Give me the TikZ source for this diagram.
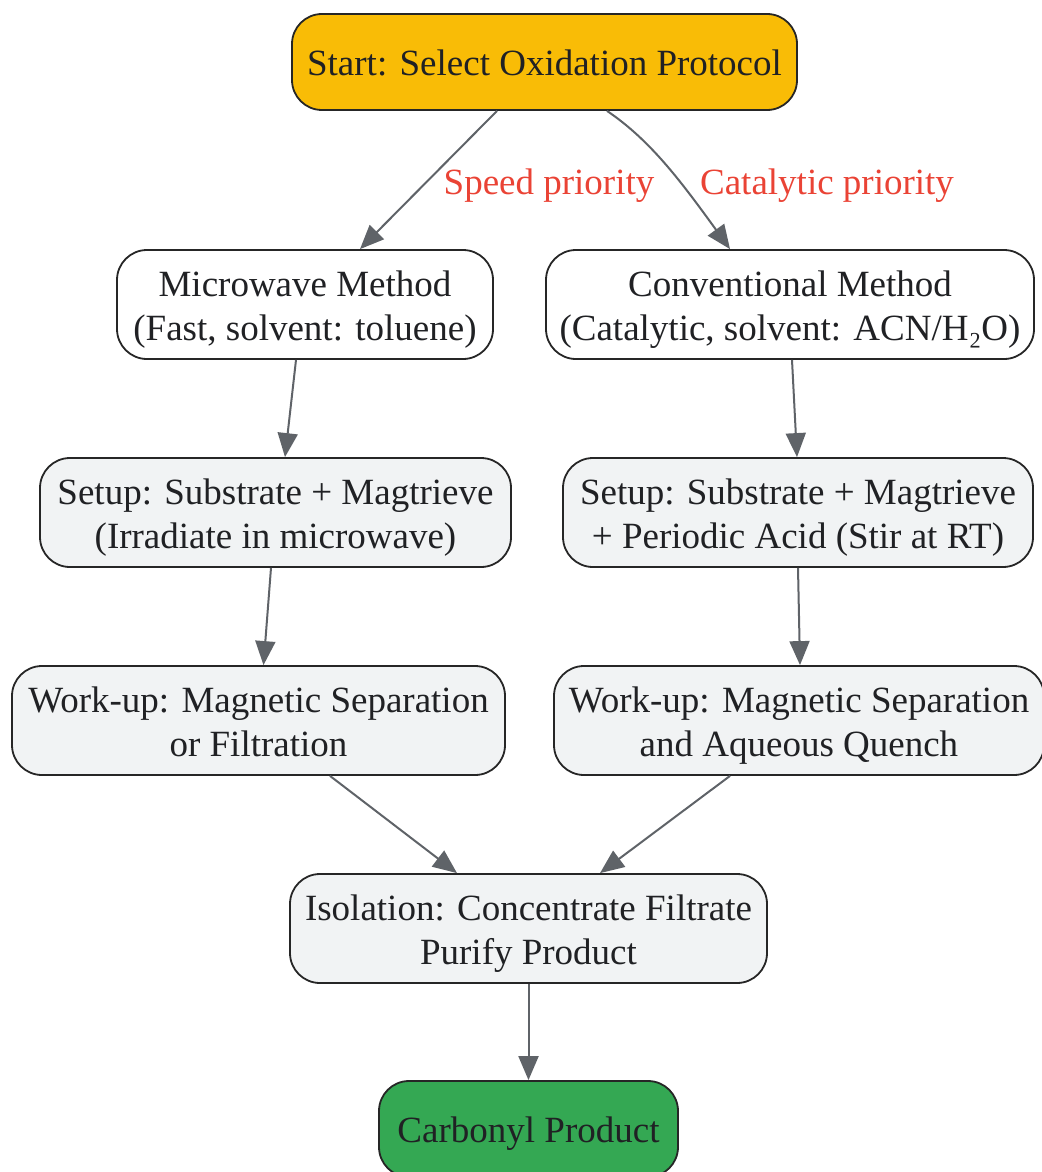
\documentclass[tikz,border=0pt]{standalone}
\usepackage{fontspec}
\setmainfont{Liberation Serif}
\usetikzlibrary{arrows.meta,calc}
\definecolor{startfill}{HTML}{F9BC06}
\definecolor{stepfill}{HTML}{F1F3F4}
\definecolor{endfill}{HTML}{34A853}
\definecolor{edgecol}{HTML}{5F6368}
\definecolor{labcol}{HTML}{EA4335}
\definecolor{txtcol}{HTML}{202124}
\newcommand\firstln{\rule{0pt}{35pt}}
\tikzset{
  box/.style={draw=black!85, line width=1.8pt, rounded corners=30pt, align=center,
    inner sep=0pt, text=txtcol, font=\fontsize{37}{44}\selectfont},
  edge/.style={draw=edgecol, line width=2pt, -{Triangle[length=24pt,width=20pt]}},
  elab/.style={text=labcol, font=\fontsize{37}{44}\selectfont, inner sep=0pt},
}
\begin{document}
\begin{tikzpicture}[x=1pt,y=-1pt]
\useasboundingbox (0,0) rectangle (1041,1172);
\node[box, fill=startfill, minimum width=505pt, minimum height=96pt] (start) at (544.5,62) {\rule{0pt}{27pt}Start: Select Oxidation Protocol};
\node[box, fill=white, minimum width=376pt, minimum height=109pt] (micro) at (305,304.5) {\firstln Microwave Method\\(Fast, solvent: toluene)};
\node[box, fill=white, minimum width=488pt, minimum height=109pt] (conv) at (790,304.5) {\firstln Conventional Method\\(Catalytic, solvent: ACN/H₂O)};
\node[box, fill=stepfill, minimum width=471pt, minimum height=109pt] (setl) at (275.5,512.5) {\firstln Setup: Substrate + Magtrieve\\(Irradiate in microwave)};
\node[box, fill=stepfill, minimum width=470pt, minimum height=109pt] (setr) at (798,512.5) {\firstln Setup: Substrate + Magtrieve\\+ Periodic Acid (Stir at RT)};
\node[box, fill=stepfill, minimum width=493pt, minimum height=109pt] (workl) at (258.5,720.5) {\rule{0pt}{29pt}Work-up: Magnetic Separation\\or Filtration};
\node[box, fill=stepfill, minimum width=490pt, minimum height=109pt] (workr) at (799,720.5) {\firstln Work-up: Magnetic Separation\\and Aqueous Quench};
\node[box, fill=stepfill, minimum width=477pt, minimum height=109pt] (iso) at (528.5,928.5) {\firstln Isolation: Concentrate Filtrate\\Purify Product};
\node[box, fill=endfill, minimum width=299pt, minimum height=96pt] (prod) at (528.5,1129) {\rule{0pt}{34pt}Carbonyl Product};

\draw[edge] ([xshift=-47.5pt]start.south) -- ([xshift=55pt]micro.north);
\draw[edge] ([xshift=62.5pt]start.south) .. controls (650,140) and (680,180) .. ([xshift=-60pt]conv.north);
\node[elab] (lab1) at (549,186) {Speed priority};
\node[elab] (lab2) at (827,186) {Catalytic priority};

\draw[edge] ([xshift=-9pt]micro.south) -- ([xshift=9.5pt]setl.north);
\draw[edge] ([xshift=2pt]conv.south) -- ([xshift=-1pt]setr.north);
\draw[edge] ([xshift=-4.5pt]setl.south) -- ([xshift=5pt]workl.north);
\draw[edge] ([xshift=0pt]setr.south) -- ([xshift=1pt]workr.north);
\draw[edge] ([xshift=71.5pt]workl.south) -- ([xshift=-71.5pt]iso.north);
\draw[edge] ([xshift=-69pt]workr.south) -- ([xshift=71.5pt]iso.north);
\draw[edge] (iso.south) -- (prod.north);
\end{tikzpicture}
\end{document}
